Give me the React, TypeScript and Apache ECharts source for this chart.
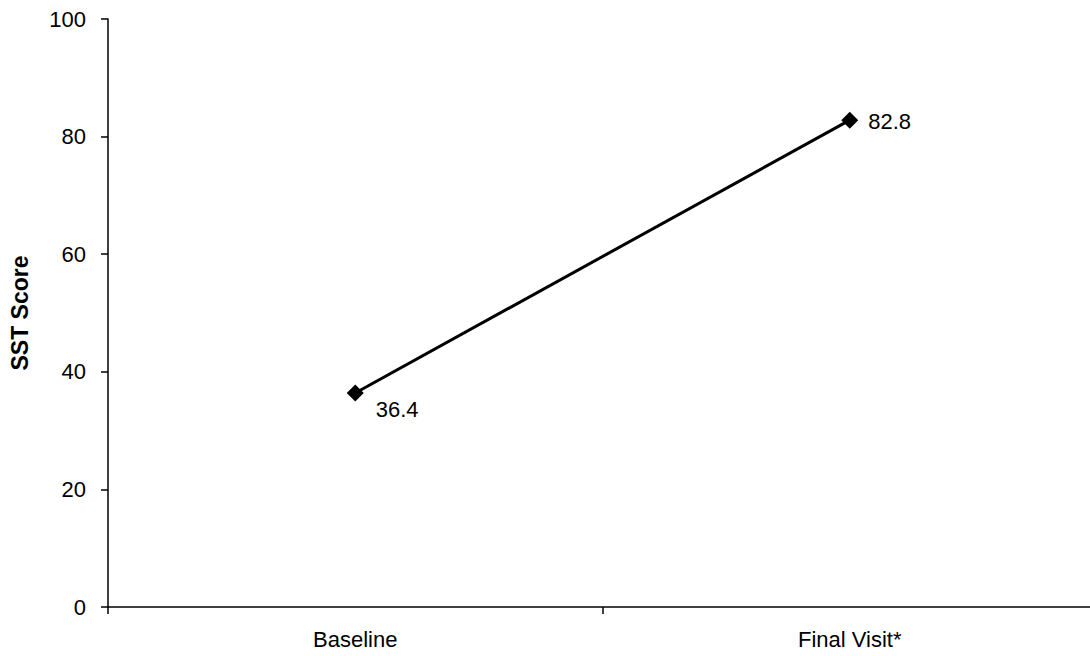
import React, { useEffect, useRef } from "react";
import * as echarts from "echarts";

const categories = ["Baseline", "Final Visit*"];
const sstScores = [36.4, 82.8];
const yTicks = { min: 0, max: 100, interval: 20 };

export default function App() {
  const ref = useRef<HTMLDivElement>(null);
  useEffect(() => {
    const chart = echarts.init(ref.current!, null, { renderer: "svg" });
    const font = "'Liberation Sans', Arial, sans-serif";
    chart.setOption({
      animation: false,
      backgroundColor: "#ffffff",
      grid: { left: 107, right: 0, top: 19, bottom: 49, containLabel: false },
      xAxis: {
        type: "category",
        data: categories,
        boundaryGap: true,
        axisLine: { lineStyle: { color: "#000", width: 1.5 } },
        axisTick: { show: true, length: 7, lineStyle: { color: "#000", width: 1.5 } },
        axisLabel: { color: "#000", fontSize: 22, fontFamily: font, margin: 21 },
      },
      yAxis: {
        type: "value",
        min: yTicks.min,
        max: yTicks.max,
        interval: yTicks.interval,
        name: "SST Score",
        nameLocation: "middle",
        nameGap: 77,
        nameRotate: 90,
        nameTextStyle: { color: "#000", fontSize: 23, fontWeight: "bold", fontFamily: font },
        axisLine: { show: true, lineStyle: { color: "#000", width: 1.5 } },
        axisTick: { show: true, length: 7, lineStyle: { color: "#000", width: 1.5 } },
        axisLabel: { color: "#000", fontSize: 22, fontFamily: font, margin: 22 },
        splitLine: { show: false },
      },
      series: [
        {
          type: "line",
          data: sstScores.map((v, i) => ({
            value: v,
            label: {
              show: true,
              position: "right",
              offset: i === 0 ? [7, 17] : [5, 1],
              formatter: (p: any) => p.value.toFixed(1),
              color: "#000",
              fontSize: 22,
              fontFamily: font,
            },
          })),
          symbol: "diamond",
          symbolSize: 17,
          itemStyle: { color: "#000" },
          lineStyle: { color: "#000", width: 3 },
        },
      ],
    });
    return () => chart.dispose();
  }, []);
  return (
    <div
      style={{
        position: "absolute",
        left: 0,
        top: 0,
        width: 1090,
        height: 656,
        overflow: "hidden",
      }}
    >
      <div ref={ref} style={{ width: 1097, height: 656 }} />
    </div>
  );
}
